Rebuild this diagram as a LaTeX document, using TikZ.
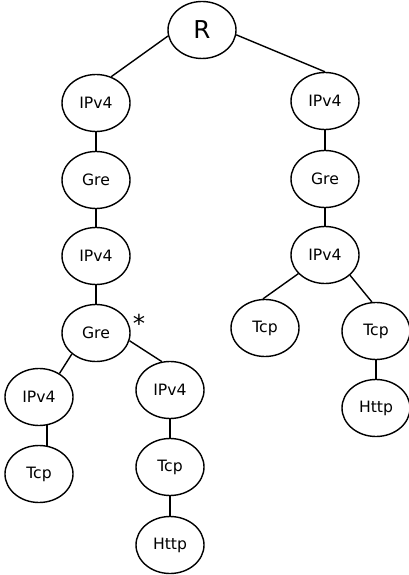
\documentclass[tikz,border=0pt]{standalone}
\usepackage{fontspec}
\setmainfont{DejaVu Sans}
\usetikzlibrary{shapes.geometric, positioning}

\begin{document}
\begin{tikzpicture}[
        proto/.style={draw, ellipse, thick, on grid, minimum width=1.36cm, minimum height=1.14cm,
            inner sep=0pt, font=\fontsize{8.9}{10}\selectfont},
        raiz/.style={proto, font=\fontsize{14}{16}\selectfont},
        enlace/.style={thick}
    ]
        \useasboundingbox (0,0) rectangle (8.18,-11.5);
        \node[raiz] (r) at (4.04,-0.60) {R};
        % rama izquierda
        \node[proto, below left=1.46cm and 2.12cm of r] (ipA) {IPv4};
        \node[proto, below=1.54cm of ipA] (greA) {Gre};
        \node[proto, below=1.52cm of greA] (ipB) {IPv4};
        \node[proto, below=1.54cm of ipB] (greB) {Gre};
        \node[on grid, above right=0.2cm and 0.86cm of greB, font=\fontsize{14}{16}\selectfont] (marca) {*};
        \node[proto, below left=1.28cm and 1.14cm of greB] (ipC) {IPv4};
        \node[proto, below=1.54cm of ipC] (tcpA) {Tcp};
        \node[proto, below right=1.14cm and 1.48cm of greB] (ipD) {IPv4};
        \node[proto, below=1.54cm of ipD] (tcpB) {Tcp};
        \node[proto, below=1.56cm of tcpB] (httpA) {Http};
        % rama derecha
        \node[proto, below right=1.42cm and 2.46cm of r] (ipE) {IPv4};
        \node[proto, below=1.56cm of ipE] (greC) {Gre};
        \node[proto, below=1.52cm of greC] (ipF) {IPv4};
        \node[proto, below left=1.46cm and 1.20cm of ipF] (tcpC) {Tcp};
        \node[proto, below right=1.52cm and 1.02cm of ipF] (tcpD) {Tcp};
        \node[proto, below=1.54cm of tcpD] (httpB) {Http};

        \draw[enlace] (r.190) -- (ipA.60);
        \draw[enlace] (ipA) -- (greA);
        \draw[enlace] (greA) -- (ipB);
        \draw[enlace] (ipB) -- (greB);
        \draw[enlace] (greB.221) -- (ipC.49);
        \draw[enlace] (ipC.-74) -- (tcpA.74);
        \draw[enlace] (greB.-13) -- (ipD.106);
        \draw[enlace] (ipD) -- (tcpB);
        \draw[enlace] (tcpB) -- (httpA);
        \draw[enlace] (r.-8) -- (ipE.north);
        \draw[enlace] (ipE) -- (greC);
        \draw[enlace] (greC) -- (ipF);
        \draw[enlace] (ipF.215) -- (tcpC.94);
        \draw[enlace] (ipF.-39) -- (tcpD.98);
        \draw[enlace] (tcpD) -- (httpB);
    \end{tikzpicture}
\end{document}
